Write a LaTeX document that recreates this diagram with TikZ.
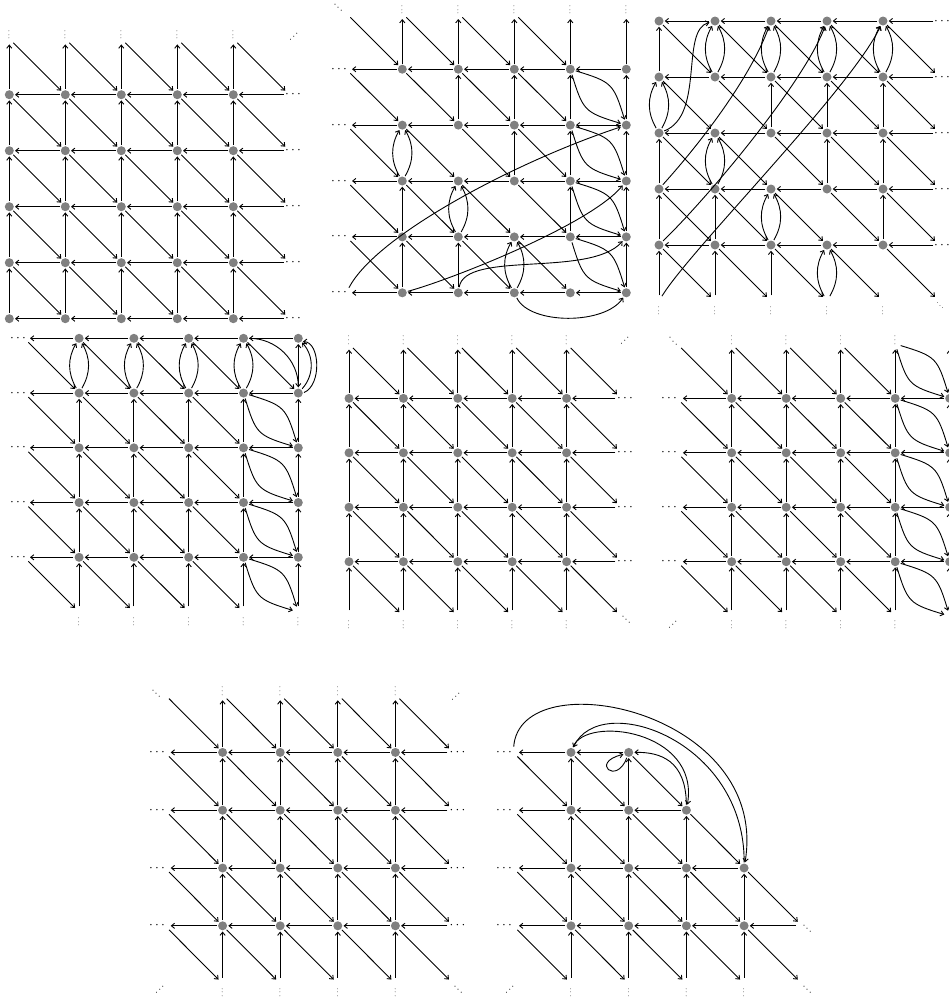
\documentclass[tikz,border=0pt]{standalone}
\usetikzlibrary{arrows.meta}
\definecolor{nodegray}{RGB}{128,128,128}
\tikzset{
 gnode/.style={circle,fill=nodegray,minimum size=4.5pt,inner sep=0pt,outer sep=0.6pt},
 vpt/.style={circle,minimum size=4.5pt,inner sep=0pt,outer sep=0.6pt},
 arr/.style={-{Straight Barb[length=1.6pt,width=2.6pt]},line width=0.45pt},
 hdots/.style={inner sep=0pt,scale=0.68},
 vdotsn/.style={inner sep=0pt,rotate=90,scale=0.42},
 ddotsn/.style={inner sep=0pt,rotate=-45,scale=0.5},
 adotsn/.style={inner sep=0pt,rotate=45,scale=0.5},
}
\newcommand\twoarcs[3]{\draw[arr] (#1) to[bend left=#3] (#2); \draw[arr] (#1) to[bend right=#3] (#2);}
\newcommand\lens[2]{\draw[arr] (#1) to[bend left=28,looseness=1.4] (#2); \draw[arr] (#1) to[bend right=28,looseness=1.4] (#2);}
\begin{document}
\begin{tikzpicture}[x=0.5pt,y=-0.5pt]
\useasboundingbox (0,0) rectangle (949,1003);
\clip (0,0) rectangle (949,1003);

% ================= Panel A (top left)
\foreach \i in {0,...,5}{\foreach \j in {0,...,5}{\node[vpt] (A-\i-\j) at ({9.3+56*\i},{38.7+56*\j}) {};}}
\foreach \i in {0,...,4}{\foreach \j in {1,...,5}{\node[gnode] (A-\i-\j) at (A-\i-\j) {};}}
\foreach \i [evaluate=\i as \ii using int(\i+1)] in {0,...,4}{\foreach \j [evaluate=\j as \jj using int(\j+1)] in {0,...,4}{
  \draw[arr] (A-\ii-\jj) -- (A-\i-\jj);
  \draw[arr] (A-\i-\jj) -- (A-\i-\j);
  \draw[arr] (A-\i-\j) -- (A-\ii-\jj);
}}
\foreach \i in {0,...,4}{\node[vdotsn] (Atv\i) at ({9.3+56*\i},35) {$\cdots$};}
\foreach \j in {1,...,5}{\node[hdots] (Arh\j) at (293,{38.7+56*\j}) {$\cdots$};}
\node[adotsn] (Acorner) at (294,37) {$\cdots$};

% ================= Panel B (top middle)
\foreach \i in {0,...,5}{\foreach \j in {0,...,5}{\node[vpt] (B-\i-\j) at ({346.3+56*\i},{13.3+55.9*\j}) {};}}
\foreach \i in {1,...,5}{\foreach \j in {1,...,5}{\node[gnode] (B-\i-\j) at (B-\i-\j) {};}}
\foreach \i [evaluate=\i as \ii using int(\i+1)] in {0,...,4}{\foreach \j in {1,...,5}{\draw[arr] (B-\ii-\j) -- (B-\i-\j);}}
\foreach \i/\j in {1/0,2/0,3/0,4/0,5/0,2/1,3/1,4/1,5/1,3/2,4/2,5/2,1/3,4/3,5/3,1/4,2/4,5/4}{
  \pgfmathtruncatemacro\jj{\j+1}\draw[arr] (B-\i-\jj) -- (B-\i-\j);}
\foreach \i [evaluate=\i as \ii using int(\i+1)] in {0,...,3}{\foreach \j [evaluate=\j as \jj using int(\j+1)] in {0,...,4}{\draw[arr] (B-\i-\j) -- (B-\ii-\jj);}}
\foreach \j [evaluate=\j as \jj using int(\j+1)] in {1,...,4}{\lens{B-4-\j}{B-5-\jj}}
\twoarcs{B-1-3}{B-1-2}{30}
\twoarcs{B-2-4}{B-2-3}{30}
\twoarcs{B-3-5}{B-3-4}{30}
\draw[arr] (B-0-5) .. controls (377,234) and (520,160) .. (B-5-2);
\draw[arr] (B-1-5) .. controls (450,280) and (590,225) .. (B-5-3);
\draw[arr] (B-2-5) .. controls (465,250) and (590,278) .. (B-5-4);
\draw[arr] (B-3-5) .. controls (530,325) and (605,325) .. (B-5-5);
\foreach \i in {1,...,5}{\node[vdotsn] (Btv\i) at ({346.3+56*\i},10) {$\cdots$};}
\foreach \j in {1,...,5}{\node[hdots] (Blh\j) at (339,{13.3+55.9*\j}) {$\cdots$};}
\node[ddotsn] (Bcorner) at (338,8) {$\cdots$};

% ================= Panel C (top right)
\foreach \i in {0,...,5}{\foreach \j in {0,...,5}{\node[vpt] (C-\i-\j) at ({659+56*\i},{21+56*\j}) {};}}
\foreach \i in {0,...,4}{\foreach \j in {0,...,4}{\node[gnode] (C-\i-\j) at (C-\i-\j) {};}}
\foreach \i [evaluate=\i as \ii using int(\i+1)] in {0,...,4}{\foreach \j [evaluate=\j as \jj using int(\j+1)] in {0,...,4}{
  \draw[arr] (C-\ii-\j) -- (C-\i-\j);
  \draw[arr] (C-\i-\j) -- (C-\ii-\jj);
}}
\foreach \i/\j in {0/0,2/1,3/1,4/1,0/2,3/2,4/2,0/3,1/3,4/3,0/4,1/4,2/4}{
  \pgfmathtruncatemacro\jj{\j+1}\draw[arr] (C-\i-\jj) -- (C-\i-\j);}
\foreach \i/\j in {1/0,2/0,3/0,4/0,0/1,1/2,2/3,3/4}{
  \pgfmathtruncatemacro\jj{\j+1}\twoarcs{C-\i-\jj}{C-\i-\j}{30}}
\draw[arr] (C-0-2) .. controls (705,115) and (680,30) .. (C-1-0);
\draw[arr] (C-0-3) .. controls (704,139) and (751,76) .. (C-2-0);
\draw[arr] (C-0-4) .. controls (715,190) and (805,80) .. (C-3-0);
\draw[arr] (C-0-5) .. controls (690,250) and (850,90) .. (C-4-0);
\foreach \j in {0,...,4}{\node[hdots] (Crh\j) at (942,{21+56*\j}) {$\cdots$};}
\foreach \i in {0,...,4}{\node[vdotsn] (Cbv\i) at ({659+56*\i},311) {$\cdots$};}
\node[ddotsn,scale=0.8] (Ccorner) at (940,306) {$\cdots$};

% ================= Panel D (middle left)
\foreach \i in {0,...,5}{\foreach \j in {0,...,5}{\node[vpt] (D-\i-\j) at ({24.3+54.8*\i},{338.3+54.75*\j}) {};}}
\foreach \i in {1,...,5}{\foreach \j in {0,...,4}{\node[gnode] (D-\i-\j) at (D-\i-\j) {};}}
\foreach \i [evaluate=\i as \ii using int(\i+1)] in {0,...,4}{\foreach \j in {0,...,4}{\draw[arr] (D-\ii-\j) -- (D-\i-\j);}}
\foreach \i [evaluate=\i as \ii using int(\i+1)] in {0,...,3}{\foreach \j [evaluate=\j as \jj using int(\j+1)] in {0,...,4}{\draw[arr] (D-\i-\j) -- (D-\ii-\jj);}}
\foreach \i/\j in {5/0,1/1,2/1,3/1,4/1,5/1,1/2,2/2,3/2,4/2,5/2,1/3,2/3,3/3,4/3,5/3,1/4,2/4,3/4,4/4,5/4}{
  \pgfmathtruncatemacro\jj{\j+1}\draw[arr] (D-\i-\jj) -- (D-\i-\j);}
\foreach \i in {1,...,4}{\twoarcs{D-\i-1}{D-\i-0}{30}}
\draw[arr] (D-5-1) to[bend right=42] (D-5-0);
\draw[arr] (D-5-1.5) .. controls (322,385) and (320,342) .. (D-5-0.-35);
\draw[arr] (D-4-0) -- (D-5-1);
\draw[arr] (D-4-0) to[bend left=45] (D-5-1);
\foreach \j [evaluate=\j as \jj using int(\j+1)] in {1,...,4}{\lens{D-4-\j}{D-5-\jj}}
\foreach \j in {0,...,4}{\node[hdots] (Dlh\j) at (18,{338.3+54.75*\j}) {$\cdots$};}
\foreach \i in {1,...,5}{\node[vdotsn] (Dbv\i) at ({24.3+54.8*\i},622) {$\cdots$};}

% ================= Panel E (center)
\foreach \i in {0,...,5}{\foreach \j in {0,...,5}{\node[vpt] (E-\i-\j) at ({349+54.4*\i},{343.9+54.45*\j}) {};}}
\foreach \i in {0,...,4}{\foreach \j in {1,...,4}{\node[gnode] (E-\i-\j) at (E-\i-\j) {};}}
\foreach \i [evaluate=\i as \ii using int(\i+1)] in {0,...,4}{\foreach \j [evaluate=\j as \jj using int(\j+1)] in {0,...,4}{
  \draw[arr] (E-\i-\jj) -- (E-\i-\j);
  \draw[arr] (E-\i-\j) -- (E-\ii-\jj);
}}
\foreach \i [evaluate=\i as \ii using int(\i+1)] in {0,...,4}{\foreach \j in {1,...,4}{\draw[arr] (E-\ii-\j) -- (E-\i-\j);}}
\foreach \i in {0,...,4}{\node[vdotsn] (Etv\i) at ({349+54.4*\i},340.4) {$\cdots$};
  \node[vdotsn] (Ebv\i) at ({349+54.4*\i},625) {$\cdots$};}
\foreach \j in {1,...,4}{\node[hdots] (Erh\j) at (625,{343.9+54.45*\j}) {$\cdots$};}
\node[adotsn] (Etr) at (625,341) {$\cdots$};
\node[ddotsn] (Ebr) at (626,620) {$\cdots$};

% ================= Panel F (middle right)
\foreach \i in {0,...,5}{\foreach \j in {0,...,5}{\node[vpt] (F-\i-\j) at ({677.2+54.5*\i},{343.9+54.45*\j}) {};}}
\foreach \i in {1,...,5}{\foreach \j in {1,...,4}{\node[gnode] (F-\i-\j) at (F-\i-\j) {};}}
\foreach \i [evaluate=\i as \ii using int(\i+1)] in {0,...,4}{\foreach \j in {1,...,4}{\draw[arr] (F-\ii-\j) -- (F-\i-\j);}}
\foreach \i in {1,...,5}{\foreach \j [evaluate=\j as \jj using int(\j+1)] in {0,...,4}{\draw[arr] (F-\i-\jj) -- (F-\i-\j);}}
\foreach \i [evaluate=\i as \ii using int(\i+1)] in {0,...,3}{\foreach \j [evaluate=\j as \jj using int(\j+1)] in {0,...,4}{\draw[arr] (F-\i-\j) -- (F-\ii-\jj);}}
\foreach \j [evaluate=\j as \jj using int(\j+1)] in {0,...,4}{\lens{F-4-\j}{F-5-\jj}}
\foreach \j in {1,...,4}{\node[hdots] (Flh\j) at (669,{343.9+54.45*\j}) {$\cdots$};}
\foreach \i in {1,...,5}{\node[vdotsn] (Ftv\i) at ({677.2+54.5*\i},340.4) {$\cdots$};
  \node[vdotsn] (Fbv\i) at ({677.2+54.5*\i},625) {$\cdots$};}
\node[ddotsn] (Ftl) at (673,341.5) {$\cdots$};
\node[adotsn] (Fbl) at (673,625) {$\cdots$};

% ================= Panel G (bottom left)
\foreach \i in {0,...,5}{\foreach \j in {0,...,5}{\node[vpt] (G-\i-\j) at ({165+57.6*\i},{694.6+57.8*\j}) {};}}
\foreach \i in {1,...,4}{\foreach \j in {1,...,4}{\node[gnode] (G-\i-\j) at (G-\i-\j) {};}}
\foreach \i [evaluate=\i as \ii using int(\i+1)] in {0,...,4}{\foreach \j in {1,...,4}{\draw[arr] (G-\ii-\j) -- (G-\i-\j);}}
\foreach \i in {1,...,4}{\foreach \j [evaluate=\j as \jj using int(\j+1)] in {0,...,4}{\draw[arr] (G-\i-\jj) -- (G-\i-\j);}}
\foreach \i [evaluate=\i as \ii using int(\i+1)] in {0,...,4}{\foreach \j [evaluate=\j as \jj using int(\j+1)] in {0,...,4}{\draw[arr] (G-\i-\j) -- (G-\ii-\jj);}}
\foreach \j in {1,...,4}{\node[hdots] (Glh\j) at (157,{694.6+57.8*\j}) {$\cdots$};
  \node[hdots] (Grh\j) at (457.5,{694.6+57.8*\j}) {$\cdots$};}
\foreach \i in {1,...,4}{\node[vdotsn] (Gtv\i) at ({165+57.6*\i},691.1) {$\cdots$};
  \node[vdotsn] (Gbv\i) at ({165+57.6*\i},992.6) {$\cdots$};}
\node[ddotsn] (Gtl) at (156,694) {$\cdots$};
\node[adotsn] (Gtr) at (456,697) {$\cdots$};
\node[adotsn] (Gbl) at (160,990) {$\cdots$};
\node[ddotsn] (Gbr) at (458,990) {$\cdots$};

% ================= Panel H (bottom right)
\foreach \i in {0,...,5}{\foreach \j in {0,...,5}{\node[vpt] (H-\i-\j) at ({513.3+57.7*\i},{694.6+57.8*\j}) {};}}
\foreach \i/\j in {1/1,2/1,1/2,2/2,3/2,1/3,2/3,3/3,4/3,1/4,2/4,3/4,4/4}{\node[gnode] (H-\i-\j) at (H-\i-\j) {};}
\foreach \i/\j in {0/1,1/1,0/2,1/2,2/2,0/3,1/3,2/3,3/3,0/4,1/4,2/4,3/4,4/4}{
  \pgfmathtruncatemacro\ii{\i+1}\draw[arr] (H-\ii-\j) -- (H-\i-\j);}
\foreach \i/\j in {1/1,2/1,1/2,2/2,3/2,1/3,2/3,3/3,4/3,1/4,2/4,3/4,4/4}{
  \pgfmathtruncatemacro\jj{\j+1}\draw[arr] (H-\i-\jj) -- (H-\i-\j);}
\foreach \i/\j in {0/1,1/1,2/1,0/2,1/2,2/2,3/2,0/3,1/3,2/3,3/3,4/3,0/4,1/4,2/4,3/4,4/4}{
  \pgfmathtruncatemacro\ii{\i+1}\pgfmathtruncatemacro\jj{\j+1}\draw[arr] (H-\i-\j) -- (H-\ii-\jj);}
\draw[arr] (H-0-1) .. controls (520,660) and (770,710) .. (H-4-3);
\draw[arr] (H-4-3) .. controls (745,740) and (600,690) .. (H-1-1);
\draw[arr] (H-1-1) .. controls (585,715) and (700,730) .. (H-3-2);
\draw[arr] (H-3-2) .. controls (686,760) and (660,752) .. (H-2-1);
\draw[arr] (H-2-1.250) .. controls +(-10,28) and +(-34,8) .. (H-2-1.200);
\foreach \j in {1,...,4}{\node[hdots] (Hlh\j) at (504,{694.6+57.8*\j}) {$\cdots$};}
\foreach \i in {1,...,4}{\node[vdotsn] (Hbv\i) at ({513.3+57.7*\i},992.6) {$\cdots$};}
\node[adotsn] (Hbl) at (510,990) {$\cdots$};
\node[ddotsn] (Hbr) at (807,990) {$\cdots$};
\node[ddotsn] (Hr) at (807,929) {$\cdots$};
\end{tikzpicture}
\end{document}
